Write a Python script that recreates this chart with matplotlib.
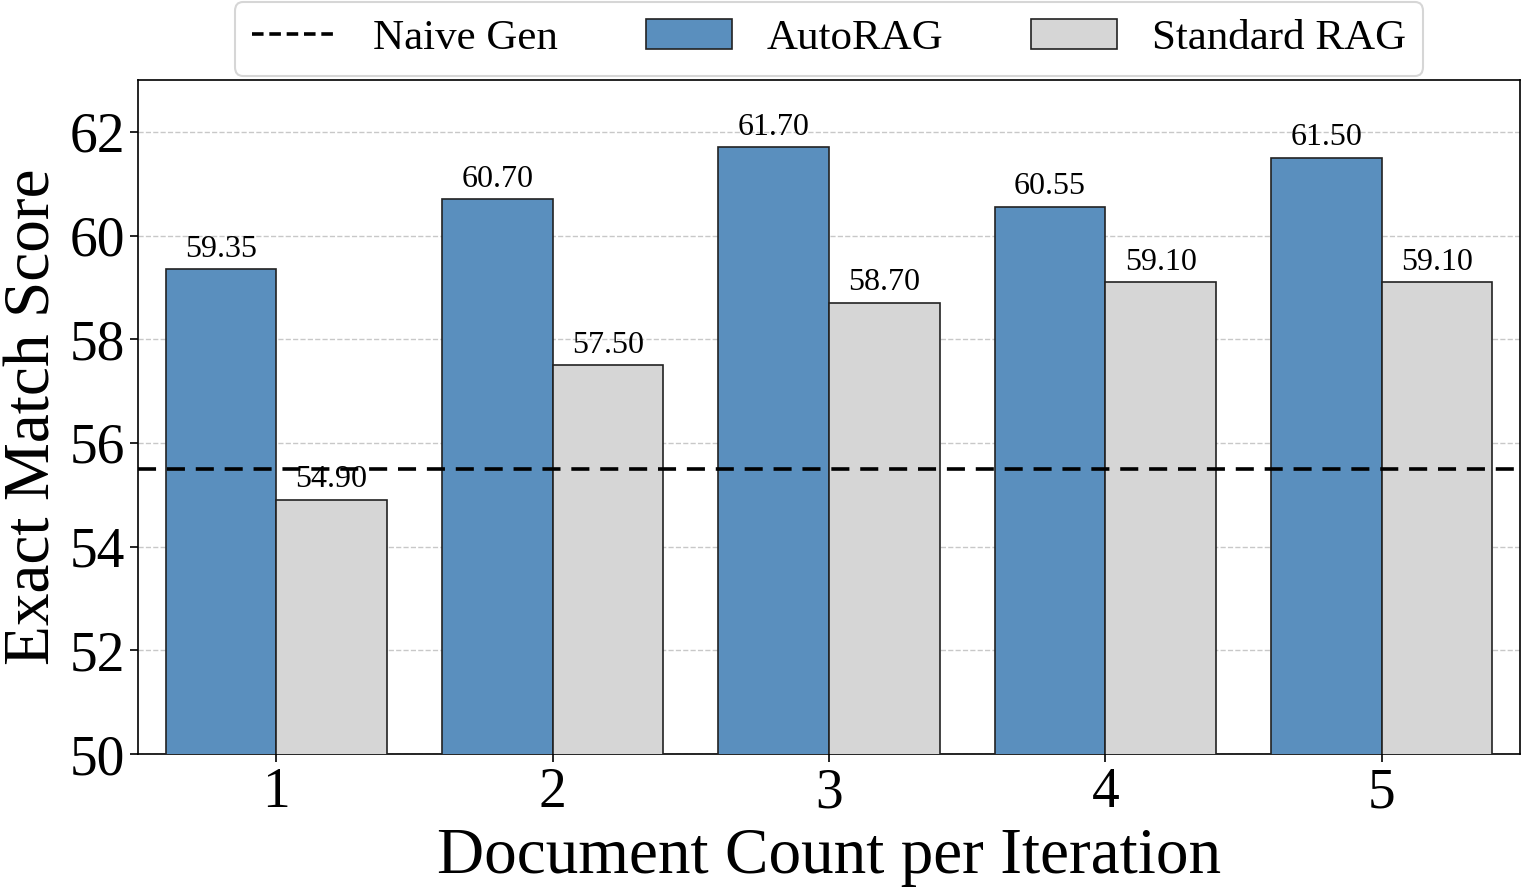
import matplotlib
matplotlib.use("Agg")
import matplotlib.pyplot as plt
from matplotlib.lines import Line2D
import numpy as np

categories = ["1", "2", "3", "4", "5"]
autorag = [59.35, 60.70, 61.70, 60.55, 61.50]
standard = [54.90, 57.50, 58.70, 59.10, 59.10]
naive_gen = 55.5
yticks = [50, 52, 54, 56, 58, 60, 62]

plt.rcParams['font.family'] = ['Liberation Serif', 'DejaVu Serif']

fig = plt.figure(figsize=(15.21, 8.88), dpi=100)
ax = fig.add_axes([138/1521, 1-754/888, (1520-138)/1521, (754-80)/888])

x = np.arange(1, len(categories) + 1)
w = 0.4
b1 = ax.bar(x - w/2, autorag, w, color='#5A8FBE', edgecolor='#222222', linewidth=1.2, label='AutoRAG', zorder=3)
b2 = ax.bar(x + w/2, standard, w, color='#D6D6D6', edgecolor='#222222', linewidth=1.2, label='Standard RAG', zorder=3)
ln = ax.axhline(naive_gen, color='black', linestyle='--', linewidth=2.6, dashes=(5, 3), label='Naive Gen', zorder=4)
ln_handle = Line2D([], [], color='black', linewidth=2.6, linestyle=(0, (3.2, 1.6)), label='Naive Gen')

for bars, vals in ((b1, autorag), (b2, standard)):
    for r, v in zip(bars, vals):
        ax.annotate(f"{v:.2f}", (r.get_x() + r.get_width()/2, v), xytext=(0, 4),
                    textcoords='offset points', ha='center', va='bottom', fontsize=23, zorder=5)

ax.set_xlim(0.5, 5.5)
ax.set_ylim(50, 63)
ax.set_xticks(x)
ax.set_xticklabels(categories)
ax.set_yticks(yticks)
ax.tick_params(axis='both', labelsize=40, width=1.2, length=6)
ax.yaxis.grid(True, linestyle='--', color='#c8c8c8', linewidth=1, zorder=0)
ax.set_axisbelow(True)
for s in ax.spines.values():
    s.set_linewidth(1.2)

ax.set_xlabel("Document Count per Iteration", fontsize=47, labelpad=6)
ax.set_ylabel("Exact Match Score", fontsize=47, labelpad=4)

leg = ax.legend(handles=[ln_handle, b1, b2], loc='lower center', bbox_to_anchor=(0.5, 1.0), ncol=3,
                fontsize=31, frameon=True, fancybox=True, handlelength=2.0, columnspacing=2.05,
                borderaxespad=0.1, handletextpad=0.8)
leg.get_frame().set_edgecolor('#cccccc')
leg.get_frame().set_linewidth(1.5)

fig.savefig("out.png", dpi=100)
